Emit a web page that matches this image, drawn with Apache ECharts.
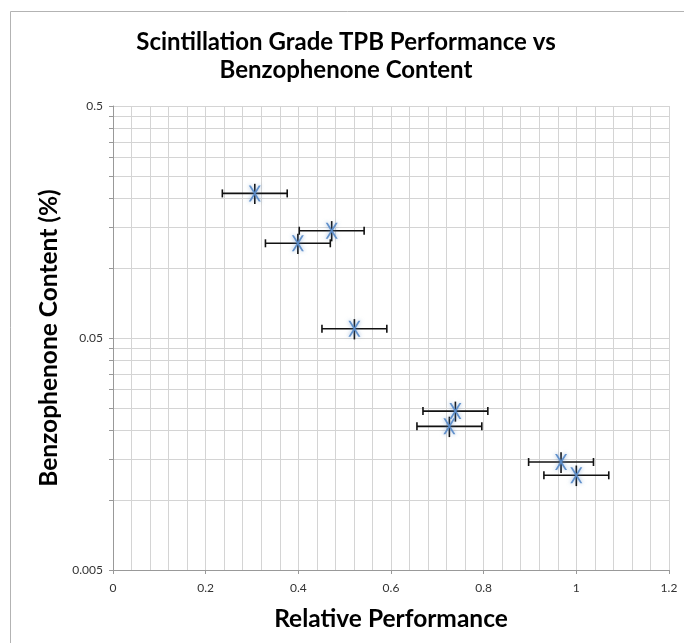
<!DOCTYPE html>
<html>
<head>
<meta charset="utf-8">
<script src="https://cdn.jsdelivr.net/npm/echarts@6/dist/echarts.min.js"></script>
<style>
html,body{margin:0;padding:0;background:#fff;}
#chart{width:684px;height:643px;}
</style>
</head>
<body>
<div id="chart"></div>
<script>
// ---- data ----
const relPerf   = [0.306, 0.472, 0.399, 0.521, 0.739, 0.726, 0.967, 1.000];
const benzo     = [0.210, 0.145, 0.128, 0.0548, 0.0242, 0.0208, 0.0146, 0.0128];
const xErr      = [0.07, 0.07, 0.07, 0.07, 0.07, 0.07, 0.07, 0.07];
const yErr      = [0.021, 0.0145, 0.0128, 0.0055, 0.0024, 0.0021, 0.0015, 0.0013];
const yMajorTicks = [0.005, 0.05, 0.5];
const yGridTicks  = [0.005, 0.01, 0.015, 0.02, 0.025, 0.03, 0.035, 0.04, 0.045,
                     0.05, 0.1, 0.15, 0.2, 0.25, 0.3, 0.35, 0.4, 0.45, 0.5];
const titleText = 'Scintillation Grade TPB Performance vs\nBenzophenone Content';
const xName = 'Relative Performance';
const yName = 'Benzophenone Content (%)';

const pts = relPerf.map((v, i) => [v, benzo[i]]);
const errData = relPerf.map((v, i) => [v, benzo[i], xErr[i], yErr[i]]);

const FONT = 'Lato';
const chart = echarts.init(document.getElementById('chart'), null, {renderer: 'canvas'});
chart.setOption({
  animation: false,
  backgroundColor: '#fff',
  graphic: [{
    type: 'rect', silent: true, z: -10,
    shape: {x: 10.5, y: 11.5, width: 800, height: 800},
    style: {fill: 'none', stroke: '#b3b3b3', lineWidth: 1}
  }],
  title: {
    text: titleText, left: 346, textAlign: 'center', top: 28, padding: 0,
    textStyle: {fontFamily: FONT, fontWeight: 'bold', fontSize: 24, lineHeight: 28, color: '#000'}
  },
  grid: {left: 113, right: 15, top: 106, bottom: 73, containLabel: false},
  xAxis: {
    type: 'value', min: 0, max: 1.2, interval: 0.2,
    name: xName, nameLocation: 'middle', nameGap: 37,
    nameTextStyle: {fontFamily: FONT, fontWeight: 'bold', fontSize: 24.5, color: '#000'},
    axisLine: {show: true, lineStyle: {color: '#999', width: 1}},
    axisTick: {show: true, length: 4, lineStyle: {color: '#999'}},
    axisLabel: {fontFamily: FONT, fontSize: 12, color: '#333', margin: 12},
    splitLine: {show: true, lineStyle: {color: '#d4d4d4', width: 1}},
    minorTick: {show: false, splitNumber: 5},
    minorSplitLine: {show: true, lineStyle: {color: '#d4d4d4', width: 1}}
  },
  yAxis: {
    type: 'log', logBase: 10, min: 0.005, max: 0.5,
    name: yName, nameLocation: 'middle', nameGap: 50, nameRotate: 90,
    nameTextStyle: {fontFamily: FONT, fontWeight: 'bold', fontSize: 24.5, color: '#000'},
    axisLine: {show: true, lineStyle: {color: '#999', width: 1}},
    axisTick: {show: true, length: 4, lineStyle: {color: '#999'}, customValues: yGridTicks},
    axisLabel: {fontFamily: FONT, fontSize: 12, color: '#333', margin: 10,
                customValues: yMajorTicks, formatter: v => String(+v.toPrecision(3))},
    splitLine: {show: true, lineStyle: {color: '#d4d4d4', width: 1}},
    minorTick: {show: false},
    minorSplitLine: {show: false}
  },
  series: [{
    type: 'custom', name: 'error bars', z: 3,
    data: errData,
    renderItem: function (params, api) {
      const x = api.value(0), y = api.value(1), ex = api.value(2), ey = api.value(3);
      const pL = api.coord([x - ex, y]);
      const pR = api.coord([x + ex, y]);
      const pT = api.coord([x, y + ey]);
      const pB = api.coord([x, y - ey]);
      const cap = 4;
      const st = {stroke: '#111', lineWidth: 1.6};
      return {
        type: 'group',
        children: [
          {type: 'line', shape: {x1: pL[0], y1: pL[1], x2: pR[0], y2: pR[1]}, style: st},
          {type: 'line', shape: {x1: pL[0], y1: pL[1] - cap, x2: pL[0], y2: pL[1] + cap}, style: st},
          {type: 'line', shape: {x1: pR[0], y1: pR[1] - cap, x2: pR[0], y2: pR[1] + cap}, style: st},
          {type: 'line', shape: {x1: pT[0], y1: pT[1], x2: pB[0], y2: pB[1]}, style: st}
        ]
      };
    }
  }, {
    type: 'scatter', name: 'Benzophenone', z: 4,
    data: pts,
    symbol: 'path://M0 0L2 0L12 16L10 16Z M10 0L12 0L2 16L0 16Z',
    symbolSize: [12, 16],
    itemStyle: {color: '#5b8cc9', opacity: 0.95, shadowBlur: 4, shadowColor: 'rgba(79,129,189,0.7)'}
  }]
});
</script>
</body>
</html>
